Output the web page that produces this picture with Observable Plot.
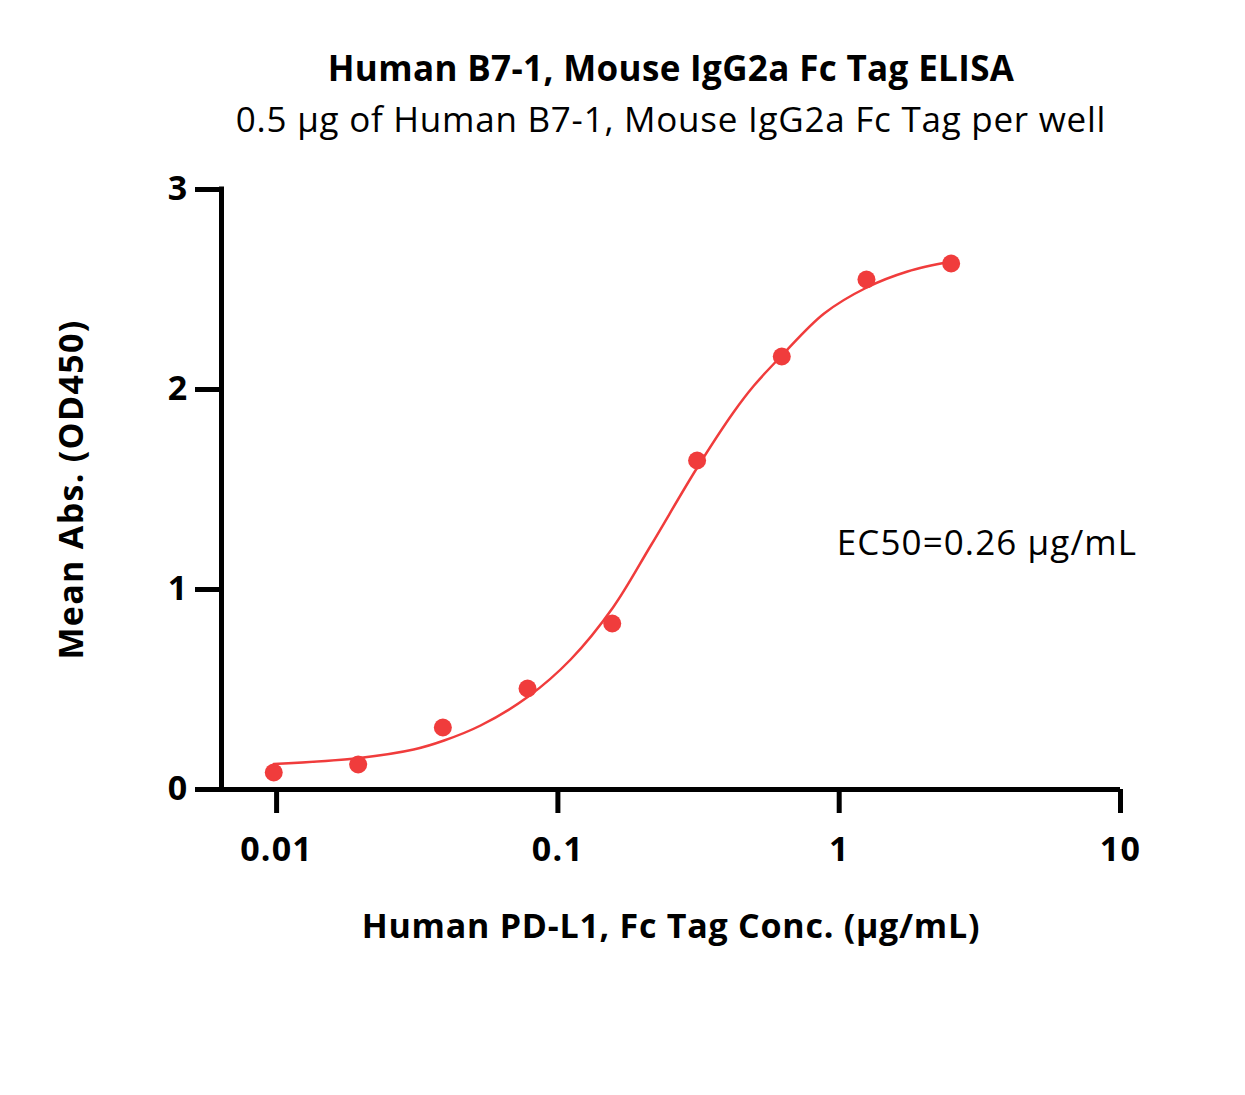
<!DOCTYPE html>
<html>
<head>
<meta charset="utf-8">
<script src="https://cdn.jsdelivr.net/npm/d3@7"></script>
<script src="https://cdn.jsdelivr.net/npm/@observablehq/plot@0.6"></script>
<style>
  html, body { margin: 0; padding: 0; background: #fff; }
  #wrap { position: relative; width: 1245px; height: 1095px; font-family: "Open Sans", Lato, sans-serif; color: #000; }
  .title { position: absolute; left: 671px; transform: translateX(-50%); white-space: nowrap; line-height: 1; }
  #t1 { top: 50px; font-size: 35px; font-weight: 700; letter-spacing: 0.35px; }
  #t2 { top: 101px; font-size: 35px; font-weight: 400; letter-spacing: 0.75px; }
  #chart { position: absolute; top: 150px; left: 0; }
</style>
</head>
<body>
<div id="wrap">
  <div class="title" id="t1">Human B7-1, Mouse IgG2a Fc Tag ELISA</div>
  <div class="title" id="t2">0.5 μg of Human B7-1, Mouse IgG2a Fc Tag per well</div>
  <div id="chart"></div>
</div>
<script>
// Measured points
const conc = [0.00977, 0.0195, 0.039, 0.078, 0.156, 0.3125, 0.625, 1.25, 2.5];
const meanAbs = [0.085, 0.125, 0.31, 0.505, 0.83, 1.645, 2.165, 2.55, 2.63];

// Fitted curve
const fitConc = [0.00977, 0.0197, 0.0307, 0.0394, 0.0531, 0.0785, 0.111, 0.157, 0.214, 0.313, 0.423, 0.498, 0.625, 0.884, 1.253, 1.749, 2.49];
const fitAbs  = [0.127, 0.158, 0.20, 0.245, 0.32, 0.465, 0.65, 0.91, 1.22, 1.61, 1.89, 2.02, 2.17, 2.38, 2.51, 2.59, 2.64];

const xTicks = [0.01, 0.1, 1, 10];
const yTicks = [0, 1, 2, 3];
const xDomain = [0.00637, 10];
const yDomain = [0, 3];

const xLabel = "Human PD-L1, Fc Tag Conc. (μg/mL)";
const yLabel = "Mean Abs. (OD450)";
const noteText = "EC50=0.26 μg/mL";
const notes = [{x: 0.98, y: 1.23, text: noteText}];

const points = conc.map((c, i) => ({x: c, y: meanAbs[i]}));
const fit = fitConc.map((c, i) => ({x: c, y: fitAbs[i]}));

const red = "#f03c3c";
const font = "'Open Sans', Lato, sans-serif";

const chart = Plot.plot({
  width: 1245,
  height: 945,
  marginLeft: 221,
  marginRight: 125,
  marginTop: 39,
  marginBottom: 306,
  style: {fontFamily: font, color: "#000", background: "#fff", overflow: "visible"},
  x: {type: "log", domain: xDomain},
  y: {domain: yDomain},
  marks: [
    Plot.line(fit, {x: "x", y: "y", stroke: red, strokeWidth: 2.5, curve: "catmull-rom"}),
    Plot.dot(points, {x: "x", y: "y", r: 9, fill: red, stroke: "none"}),
    Plot.ruleY([0], {stroke: "#000", strokeWidth: 5, insetLeft: -26}),
    Plot.ruleX([xDomain[0]], {stroke: "#000", strokeWidth: 5, insetTop: -2.5, insetBottom: -2.5}),
    Plot.axisX({ticks: xTicks, tickSize: 24, tickPadding: 23, strokeWidth: 5, tickFormat: d => String(d), fontSize: 34, fontWeight: "bold", label: null}),
    Plot.axisY({ticks: yTicks, tickSize: 26, tickPadding: 7, strokeWidth: 5, tickFormat: d => String(d), fontSize: 34, fontWeight: "bold", label: null}),
    Plot.text([xLabel], {frameAnchor: "bottom", dy: 138, text: d => d, fontSize: 34, fontWeight: "bold", lineAnchor: "middle"}),
    Plot.text([yLabel], {frameAnchor: "left", dx: -149, rotate: -90, textAnchor: "middle", text: d => d, fontSize: 34, fontWeight: "bold", lineAnchor: "middle"}),
    Plot.text(notes, {x: "x", y: "y", text: "text", textAnchor: "start", fontSize: 35, lineAnchor: "middle"})
  ]
});
const sel = d3.select(chart);
sel.selectAll('g[aria-label="x-axis tick label"] text, g[aria-label="y-axis tick label"] text').style("letter-spacing", "1.2px");
const spacing = new Map([[xLabel, "0.75px"], [yLabel, "1.3px"], [noteText, "1.1px"]]);
sel.selectAll("text").each(function() {
  const s = spacing.get(this.textContent);
  if (s) this.style.letterSpacing = s;
});
document.getElementById("chart").appendChild(chart);
</script>
</body>
</html>
